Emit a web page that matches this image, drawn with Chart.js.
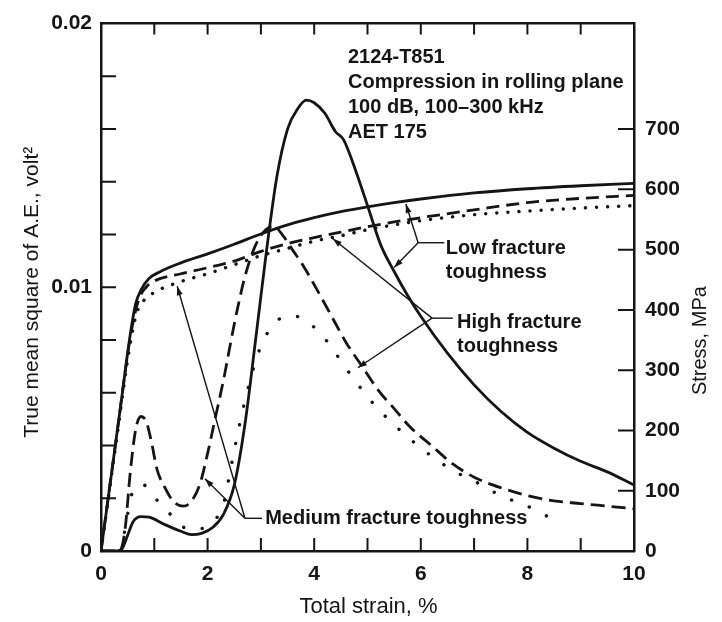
<!DOCTYPE html>
<html>
<head>
<meta charset="utf-8">
<title>2124-T851 acoustic emission</title>
<script src="https://cdn.jsdelivr.net/npm/chart.js@4.4.1/dist/chart.umd.min.js"></script>
<style>
  html, body { margin: 0; padding: 0; background: #fff; }
  #wrap { width: 722px; height: 622px; }
</style>
</head>
<body>
<div id="wrap"><canvas id="myChart" width="722" height="622"></canvas></div>
<script>
// stress-strain curves (right axis, MPa)
const strainLowStress = [0, 0.2, 0.4, 0.55, 0.65, 0.75, 0.9, 1.1, 1.5, 2, 2.5, 3, 3.5, 4, 4.5, 5, 5.5, 6, 7, 8, 9, 10];
const stressLow = [0, 130, 262, 360, 410, 433, 452, 463, 478, 493, 509, 526, 541, 553, 563, 571, 578, 584, 594, 601, 606, 610];

const strainMedStress = [0, 0.3, 0.55, 0.7, 0.85, 1, 1.5, 2, 2.5, 3, 3.5, 4, 4.5, 5, 5.5, 6, 7, 8, 9, 10];
const stressMed = [0, 195, 355, 415, 438, 448, 460, 470, 481, 497, 510, 520, 529, 538, 546, 553, 566, 578, 585, 590];

const strainHighStress = [0, 0.3, 0.55, 0.67, 0.8, 1, 1.5, 2, 2.5, 3, 3.5, 4, 4.5, 5, 5.5, 6, 7, 8, 9, 10];
const stressHigh = [0, 190, 345, 395, 415, 429, 447, 460, 475, 490, 502, 514, 523, 533, 541, 548, 558, 564, 569, 573];

// acoustic emission curves (left axis, volt^2)
const strainLowAE = [0, 0.3, 0.4, 0.5, 0.6, 0.75, 0.9, 1.2, 1.5, 1.7, 1.9, 2.1, 2.3, 2.5, 2.7, 2.9, 3.1, 3.3, 3.5, 3.7, 3.85, 4.0, 4.2, 4.4, 4.55, 4.8, 5.0, 5.25, 5.5, 5.75, 6.0, 6.5, 7.0, 7.5, 8.0, 8.5, 9.0, 9.5, 10];
const aeLow = [0, 0, 0.0001, 0.0006, 0.0011, 0.0013, 0.00128, 0.001, 0.00075, 0.00062, 0.00068, 0.0009, 0.0014, 0.0025, 0.0048, 0.008, 0.0113, 0.0142, 0.016, 0.0168, 0.0171, 0.017, 0.0166, 0.0159, 0.0156, 0.0143, 0.0131, 0.0116, 0.0106, 0.0097, 0.0089, 0.0075, 0.0063, 0.0053, 0.0045, 0.0039, 0.0034, 0.003, 0.0025];

const strainMedAE = [0, 0.35, 0.45, 0.55, 0.65, 0.75, 0.85, 0.95, 1.05, 1.2, 1.35, 1.55, 1.7, 1.85, 2.0, 2.15, 2.3, 2.5, 2.7, 2.9, 3.1, 3.25, 3.4, 3.6, 3.8, 4.0, 4.3, 4.6, 4.9, 5.2, 5.5, 5.8, 6.2, 6.6, 7.0, 7.5, 8, 8.5, 9, 9.5, 10];
const aeMed = [0, 0, 0.0008, 0.003, 0.0046, 0.0051, 0.0049, 0.0041, 0.0031, 0.0024, 0.0019, 0.0017, 0.0019, 0.0025, 0.0037, 0.0051, 0.0065, 0.0086, 0.0104, 0.0116, 0.0122, 0.0123, 0.012, 0.0114, 0.0108, 0.0101, 0.009, 0.0079, 0.007, 0.0061, 0.0054, 0.0047, 0.004, 0.0033, 0.0028, 0.0024, 0.0021, 0.0019, 0.0018, 0.0017, 0.0016];

const strainHighAE = [0, 0.35, 0.4, 0.5, 0.6, 0.7, 0.8, 0.95, 1.1, 1.35, 1.55, 1.75, 1.95, 2.15, 2.3, 2.45, 2.6, 2.75, 2.9, 3.05, 3.25, 3.45, 3.65, 3.85, 4.1, 4.4, 4.75, 5.15, 5.6, 6.2, 6.65, 7.05, 7.5, 8.0, 8.4, 8.7];
const aeHigh = [0, 0, 0.0003, 0.0014, 0.0023, 0.0025, 0.0025, 0.0022, 0.0018, 0.0013, 0.0009, 0.0008, 0.0009, 0.0012, 0.0018, 0.0033, 0.0048, 0.0061, 0.0072, 0.008, 0.0086, 0.0089, 0.0089, 0.0087, 0.0083, 0.0075, 0.0065, 0.0055, 0.0046, 0.0036, 0.003, 0.0026, 0.0021, 0.0017, 0.0013, 0.0012];

// tick labels
const strainLabels = [0, 2, 4, 6, 8, 10];
const aeLabels = [0, 0.01, 0.02];
const stressLabels = [0, 100, 200, 300, 400, 500, 600, 700];

const headerLines = ["2124-T851", "Compression in rolling plane", "100 dB, 100\u2013300 kHz", "AET 175"];
// leader notes, in (strain, left axis) units
const leaders = [
  { text: ["Low fracture", "toughness"], at: [6.47, 0.01147],
    knee: [[6.44, 0.01169], [5.95, 0.01169]], tips: [[5.72, 0.01316], [5.5, 0.01075]] },
  { text: ["High fracture", "toughness"], at: [6.68, 0.00868],
    knee: [[6.6, 0.00883], [6.21, 0.00883]], tips: [[4.35, 0.01184], [4.82, 0.00695]] },
  { text: ["Medium fracture toughness"], at: [3.08, 0.00124],
    knee: [[3.02, 0.00124], [2.7, 0.00124]], tips: [[1.95, 0.00274], [1.43, 0.01004]] },
];

const ink = "#151515";
const fam = "'Liberation Sans', Arial, sans-serif";
const tickFont = { family: fam, size: 21, weight: "bold" };
const noteFont = "bold 20px " + fam;

function curve(label, xs, ys, axis, dash, width, cap) {
  return {
    label: label,
    data: xs.map((x, i) => ({ x: x, y: ys[i] })),
    yAxisID: axis,
    borderColor: ink,
    borderWidth: width,
    borderDash: dash,
    borderCapStyle: cap,
    pointRadius: 0,
    fill: false,
    cubicInterpolationMode: "monotone",
  };
}

function arrow(ctx, from, to) {
  ctx.beginPath();
  ctx.moveTo(from[0], from[1]);
  ctx.lineTo(to[0], to[1]);
  ctx.stroke();
  const ang = Math.atan2(to[1] - from[1], to[0] - from[0]);
  ctx.beginPath();
  ctx.moveTo(to[0], to[1]);
  ctx.lineTo(to[0] - 9 * Math.cos(ang) + 3 * Math.sin(ang), to[1] - 9 * Math.sin(ang) - 3 * Math.cos(ang));
  ctx.lineTo(to[0] - 9 * Math.cos(ang) - 3 * Math.sin(ang), to[1] - 9 * Math.sin(ang) + 3 * Math.cos(ang));
  ctx.closePath();
  ctx.fill();
}

// tick marks point into the plot
const innerTicks = {
  id: "innerTicks",
  afterDatasetsDraw(chart) {
    const { ctx, chartArea: a, scales } = chart;
    ctx.save();
    ctx.strokeStyle = ink;
    ctx.lineWidth = 2;
    ctx.beginPath();
    scales.x.ticks.forEach((t) => {
      if (t.value <= 0 || t.value >= 10) return;
      const px = scales.x.getPixelForValue(t.value);
      ctx.moveTo(px, a.bottom);
      ctx.lineTo(px, a.bottom - 13);
      ctx.moveTo(px, a.top);
      ctx.lineTo(px, a.top + 11);
    });
    scales.y.ticks.forEach((t) => {
      if (t.value <= 0 || t.value >= 0.0199) return;
      const py = scales.y.getPixelForValue(t.value);
      ctx.moveTo(a.left, py);
      ctx.lineTo(a.left + 15, py);
    });
    scales.y2.ticks.forEach((t) => {
      if (t.value <= 0) return;
      const py = scales.y2.getPixelForValue(t.value);
      ctx.moveTo(a.right, py);
      ctx.lineTo(a.right - 16, py);
    });
    ctx.stroke();
    ctx.restore();
  },
};

const notes = {
  id: "notes",
  afterDraw(chart) {
    const { ctx, chartArea: a, scales: { x, y } } = chart;
    const P = (p) => [x.getPixelForValue(p[0]), y.getPixelForValue(p[1])];
    ctx.save();
    ctx.fillStyle = ink;
    ctx.strokeStyle = ink;
    ctx.font = noteFont;
    ctx.textAlign = "left";
    ctx.textBaseline = "middle";
    const h = P([4.634, 0.01872]);
    headerLines.forEach((t, i) => ctx.fillText(t, h[0], h[1] + i * 25));
    ctx.lineWidth = 1.4;
    leaders.forEach((l) => {
      const tp = P(l.at);
      l.text.forEach((t, i) => ctx.fillText(t, tp[0], tp[1] + i * 24));
      const k0 = P(l.knee[0]);
      const k1 = P(l.knee[1]);
      ctx.beginPath();
      ctx.moveTo(k0[0], k0[1]);
      ctx.lineTo(k1[0], k1[1]);
      ctx.stroke();
      l.tips.forEach((t) => arrow(ctx, k1, P(t)));
    });

    // axis titles
    ctx.textAlign = "center";
    ctx.font = "22px " + fam;
    ctx.fillText("Total strain, %", (a.left + a.right) / 2 + 1, a.bottom + 56);
    ctx.font = "21px " + fam;
    ctx.save();
    ctx.translate(32, (a.top + a.bottom) / 2 + 5);
    ctx.rotate(-Math.PI / 2);
    ctx.fillText("True mean square of A.E., volt\u00b2", 0, 0);
    ctx.restore();
    ctx.font = "20px " + fam;
    ctx.save();
    ctx.translate(a.right + 66, a.top + 317);
    ctx.rotate(-Math.PI / 2);
    ctx.fillText("Stress, MPa", 0, 0);
    ctx.restore();
    ctx.restore();
  },
};

const ctx = document.getElementById("myChart").getContext("2d");
new Chart(ctx, {
  type: "line",
  data: {
    datasets: [
      curve("Low toughness, stress", strainLowStress, stressLow, "y2", [], 2.8, "butt"),
      curve("Medium toughness, stress", strainMedStress, stressMed, "y2", [13, 7], 2.8, "butt"),
      curve("High toughness, stress", strainHighStress, stressHigh, "y2", [0.1, 11], 3.4, "round"),
      curve("Low toughness, A.E.", strainLowAE, aeLow, "y", [], 2.8, "butt"),
      curve("Medium toughness, A.E.", strainMedAE, aeMed, "y", [14, 7], 2.8, "butt"),
      curve("High toughness, A.E.", strainHighAE, aeHigh, "y", [0.1, 19], 3.4, "round"),
    ],
  },
  options: {
    responsive: false,
    animation: false,
    devicePixelRatio: 1,
    layout: { padding: 0 },
    plugins: { legend: { display: false }, tooltip: { enabled: false } },
    scales: {
      x: {
        type: "linear",
        position: "bottom",
        min: 0,
        max: 10,
        afterFit: (s) => { s.height = 71; },
        grid: { display: false, drawTicks: false },
        border: { display: true, color: ink, width: 2.5 },
        ticks: {
          stepSize: 1,
          autoSkip: false,
          maxRotation: 0,
          padding: 11,
          color: ink,
          font: tickFont,
          callback: (v) => (strainLabels.includes(v) ? String(v) : ""),
        },
      },
      xTop: {
        type: "linear",
        position: "top",
        min: 0,
        max: 10,
        afterFit: (s) => { s.height = 19; },
        grid: { display: false, drawTicks: false },
        border: { display: true, color: ink, width: 2.5 },
        ticks: { display: false },
      },
      y: {
        type: "linear",
        position: "left",
        min: 0,
        max: 0.02,
        afterFit: (s) => { s.width = 101; },
        grid: { display: false, drawTicks: false },
        border: { display: true, color: ink, width: 2.5 },
        ticks: {
          stepSize: 0.002,
          autoSkip: false,
          padding: 9,
          color: ink,
          font: tickFont,
          callback: (v) => {
            const r = +v.toFixed(4);
            return aeLabels.includes(r) ? String(r) : "";
          },
        },
      },
      y2: {
        type: "linear",
        position: "right",
        min: 0,
        max: 875,
        afterFit: (s) => { s.width = 88; },
        afterBuildTicks: (s) => {
          s.ticks = stressLabels.map((v) => ({ value: v }));
        },
        grid: { display: false, drawTicks: false },
        border: { display: true, color: ink, width: 2.5 },
        ticks: {
          autoSkip: false,
          padding: 11,
          color: ink,
          font: tickFont,
          callback: (v) => String(v),
        },
      },
    },
  },
  plugins: [innerTicks, notes],
});
</script>
</body>
</html>
